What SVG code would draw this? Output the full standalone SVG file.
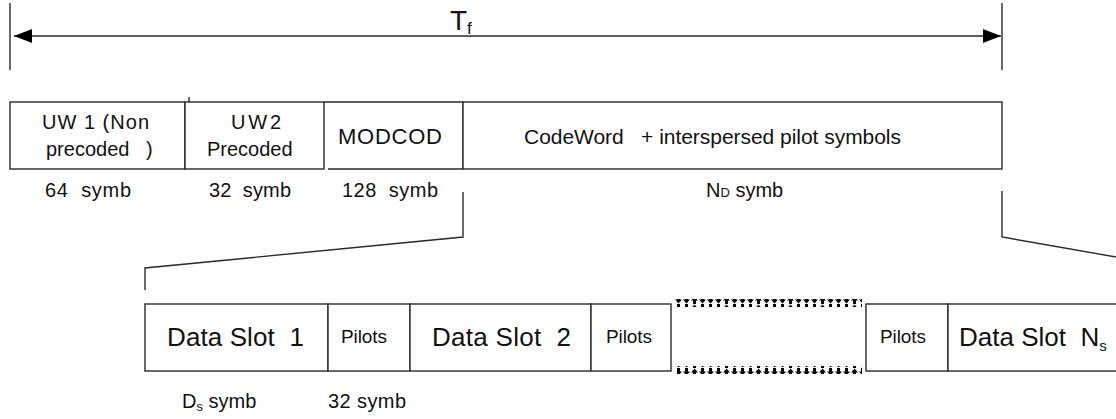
<svg xmlns="http://www.w3.org/2000/svg" width="1116" height="419" viewBox="0 0 1116 419">
<defs>
<style>
.ln{stroke:#2a2a2a;stroke-width:1.4;fill:none}
.bx{stroke:#2a2a2a;stroke-width:1.4;fill:#fff}
.t{font-family:"Liberation Sans",Arial,sans-serif;fill:#111}
.t20{font-size:20px}
.t26{font-size:26px}
.t19{font-size:19px}
.g{fill:#000}
</style>
<marker id="ah" markerUnits="userSpaceOnUse" markerWidth="18" markerHeight="14" refX="18" refY="7" orient="auto-start-reverse">
<path d="M0,0 L18,7 L0,14 z" fill="#000"/>
</marker>
<pattern id="wave" patternUnits="userSpaceOnUse" x="675" y="0" width="32" height="8">
<polygon class="g" points="2,0 5,0 5,3.5 7,3.5 3.5,7.5 0,3.5 2,3.5"/>
<polygon class="g" points="10,0 13,0 13,3.5 15,3.5 11.5,7.5 8,3.5 10,3.5"/>
<polygon class="g" points="18,8 21,8 21,4.5 23,4.5 19.5,0.5 16,4.5 18,4.5"/>
<polygon class="g" points="26,0 29,0 29,3.5 31,3.5 27.5,7.5 24,3.5 26,3.5"/>
</pattern>
</defs>
<g id="connectors">
<line class="ln" x1="10" y1="3" x2="10" y2="70"/>
<line class="ln" x1="1002" y1="3" x2="1002" y2="70"/>
<line class="ln" x1="14" y1="36" x2="1001" y2="36" marker-start="url(#ah)" marker-end="url(#ah)"/>
<polyline class="ln" points="463,192 463,237 145,268 145,290"/>
<polyline class="ln" points="1002,191 1002,237 1116,257"/>
</g>
<g id="tf-label">
<text class="t" x="450" y="30" font-size="28">T<tspan font-size="17" dy="4">f</tspan></text>
</g>
<g id="uw1">
<rect class="bx" x="10" y="102" width="175" height="67"/>
<text class="t t20" x="42" y="129" textLength="107">UW 1 (Non</text>
<text class="t t20" x="46" y="156" xml:space="preserve">precoded   )</text>
</g>
<g id="uw2">
<rect class="bx" x="185" y="102" width="139" height="67"/>
<line class="ln" x1="189" y1="97" x2="189" y2="102"/>
<text class="t t20" x="231" y="129" textLength="50">UW2</text>
<text class="t t20" x="207" y="156">Precoded</text>
</g>
<g id="modcod">
<path class="ln" d="M324,102 H463 V169 M328,169 H463"/>
<text class="t" font-size="22" x="338" y="144" textLength="104">MODCOD</text>
</g>
<g id="codeword">
<rect class="bx" x="463" y="102" width="539" height="67"/>
<text class="t" font-size="21" x="524" y="144" textLength="377" xml:space="preserve">CodeWord   + interspersed pilot symbols</text>
</g>
<g id="top-sizes">
<text class="t t20" x="45" y="197" textLength="86" xml:space="preserve">64  symb</text>
<text class="t t20" x="209" y="197" textLength="82" xml:space="preserve">32  symb</text>
<text class="t t20" x="342" y="197" textLength="96" xml:space="preserve">128  symb</text>
<text class="t t20" x="706" y="197">N<tspan font-size="13">D</tspan> symb</text>
</g>
<g id="slot1">
<rect class="bx" x="145" y="304" width="183" height="67"/>
<text class="t t26" x="167" y="346" textLength="137" xml:space="preserve">Data Slot  1</text>
</g>
<g id="pilots1">
<rect class="bx" x="328" y="304" width="82" height="67"/>
<text class="t t19" x="341" y="343" textLength="46">Pilots</text>
</g>
<g id="slot2">
<rect class="bx" x="410" y="304" width="181" height="67"/>
<text class="t t26" x="432" y="346" textLength="139" xml:space="preserve">Data Slot  2</text>
</g>
<g id="pilots2">
<rect class="bx" x="591" y="304" width="80" height="67"/>
<text class="t t19" x="606" y="343" textLength="46">Pilots</text>
</g>
<g id="gap">
<rect x="675" y="299" width="187" height="8" fill="url(#wave)"/>
<rect x="677" y="366" width="185" height="8" fill="url(#wave)"/>
</g>
<g id="pilots3">
<rect class="bx" x="866" y="304" width="82" height="67"/>
<text class="t t19" x="880" y="343" textLength="46">Pilots</text>
</g>
<g id="slotN">
<rect class="bx" x="948" y="304" width="180" height="67"/>
<text class="t t26" x="959" y="346" xml:space="preserve">Data Slot  N<tspan font-size="15" dy="5">s</tspan></text>
</g>
<g id="bottom-sizes">
<text class="t t20" x="182" y="408">D<tspan font-size="13" dy="3">s</tspan><tspan dy="-3"> symb</tspan></text>
<text class="t t20" x="328" y="408" textLength="78">32 symb</text>
</g>
</svg>
